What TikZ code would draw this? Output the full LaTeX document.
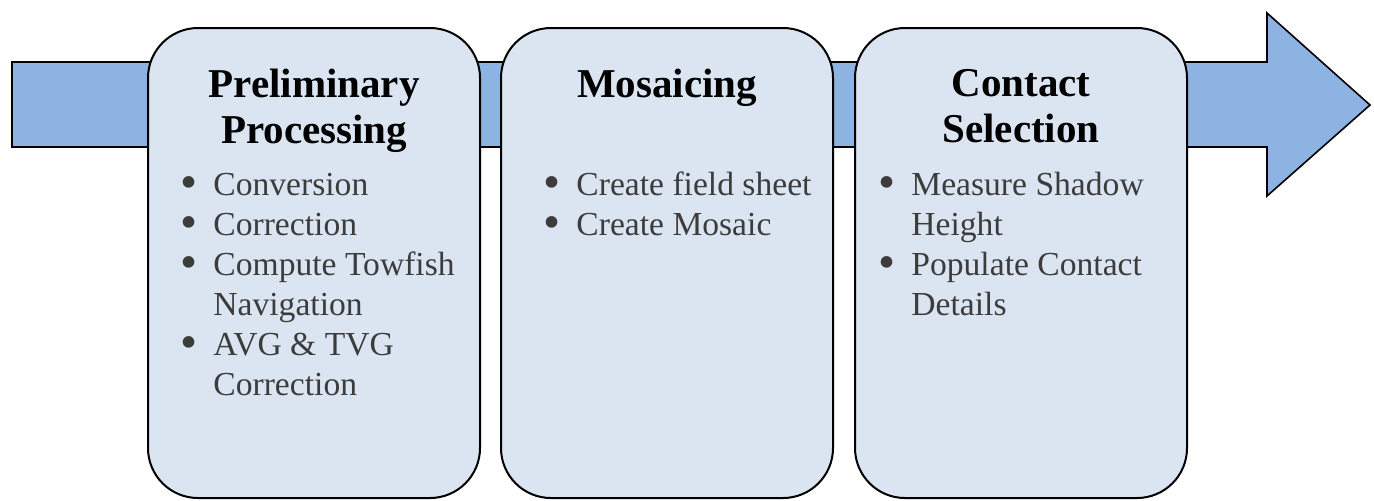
\documentclass[tikz,border=0pt]{standalone}
\usepackage{fontspec}
\setmainfont{Liberation Serif}
\usetikzlibrary{positioning}
\definecolor{stagefill}{RGB}{219,229,241}
\definecolor{flowfill}{RGB}{141,179,226}
\definecolor{itemgray}{RGB}{60,60,60}
\newcommand{\stageitems}[1]{%
  \begin{tabular}{@{}l@{}l@{}}#1\end{tabular}}
\newcommand{\stagebullet}{\makebox[16.5pt][l]{\smash{\raisebox{-0.1em}{\scalebox{1.45}{\textbullet}}}}}

\begin{document}
\begin{tikzpicture}[x=0.5pt, y=-0.5pt,
    stage/.style={draw, line width=1pt, fill=stagefill, rounded corners=25pt,
      minimum width=166pt, minimum height=235pt, inner sep=0pt},
    stagetitle/.style={align=center, inner sep=0pt,
      font=\fontsize{20.5}{23}\selectfont\bfseries},
    stagelist/.style={inner sep=0pt, text=itemgray, anchor=north west,
      font=\fontsize{16.8}{20}\selectfont},
  ]
  \useasboundingbox (0,0) rectangle (1374,500);

  % process arrow behind the stages
  \draw[fill=flowfill, line width=0.8pt, line join=miter]
    (12,62) -- (1267,62) -- (1267,13) -- (1370,105) -- (1267,196)
    -- (1267,147) -- (12,147) -- cycle;

  % stages
  \node[stage] (prep) at (314,263) {};
  \node[stage] (mosaic) at (667,263) {};
  \node[stage] (contact) at (1021,263) {};

  % titles
  \node[stagetitle, below=21pt of prep.north] (preptitle) {Preliminary\\Processing};
  \node[stagetitle, below=21pt of mosaic.north] (mosaictitle) {Mosaicing};
  \node[stagetitle, below=21pt of contact.north] (contacttitle) {Contact\\Selection};

  % task lists
  \node[stagelist] (preplist) at ([xshift=16.5pt, yshift=-70pt]prep.north west)
    {\stageitems{\stagebullet & Conversion\\
      \stagebullet & Correction\\
      \stagebullet & Compute Towfish\\
      & Navigation\\
      \stagebullet & AVG \& TVG\\
      & Correction}};
  \node[stagelist] (mosaiclist) at ([xshift=21.5pt, yshift=-70pt]mosaic.north west)
    {\stageitems{\stagebullet & Create field sheet\\
      \stagebullet & Create Mosaic}};
  \node[stagelist] (contactlist) at ([xshift=12pt, yshift=-70pt]contact.north west)
    {\stageitems{\stagebullet & Measure Shadow\\
      & Height\\
      \stagebullet & Populate Contact\\
      & Details}};
\end{tikzpicture}
\end{document}
